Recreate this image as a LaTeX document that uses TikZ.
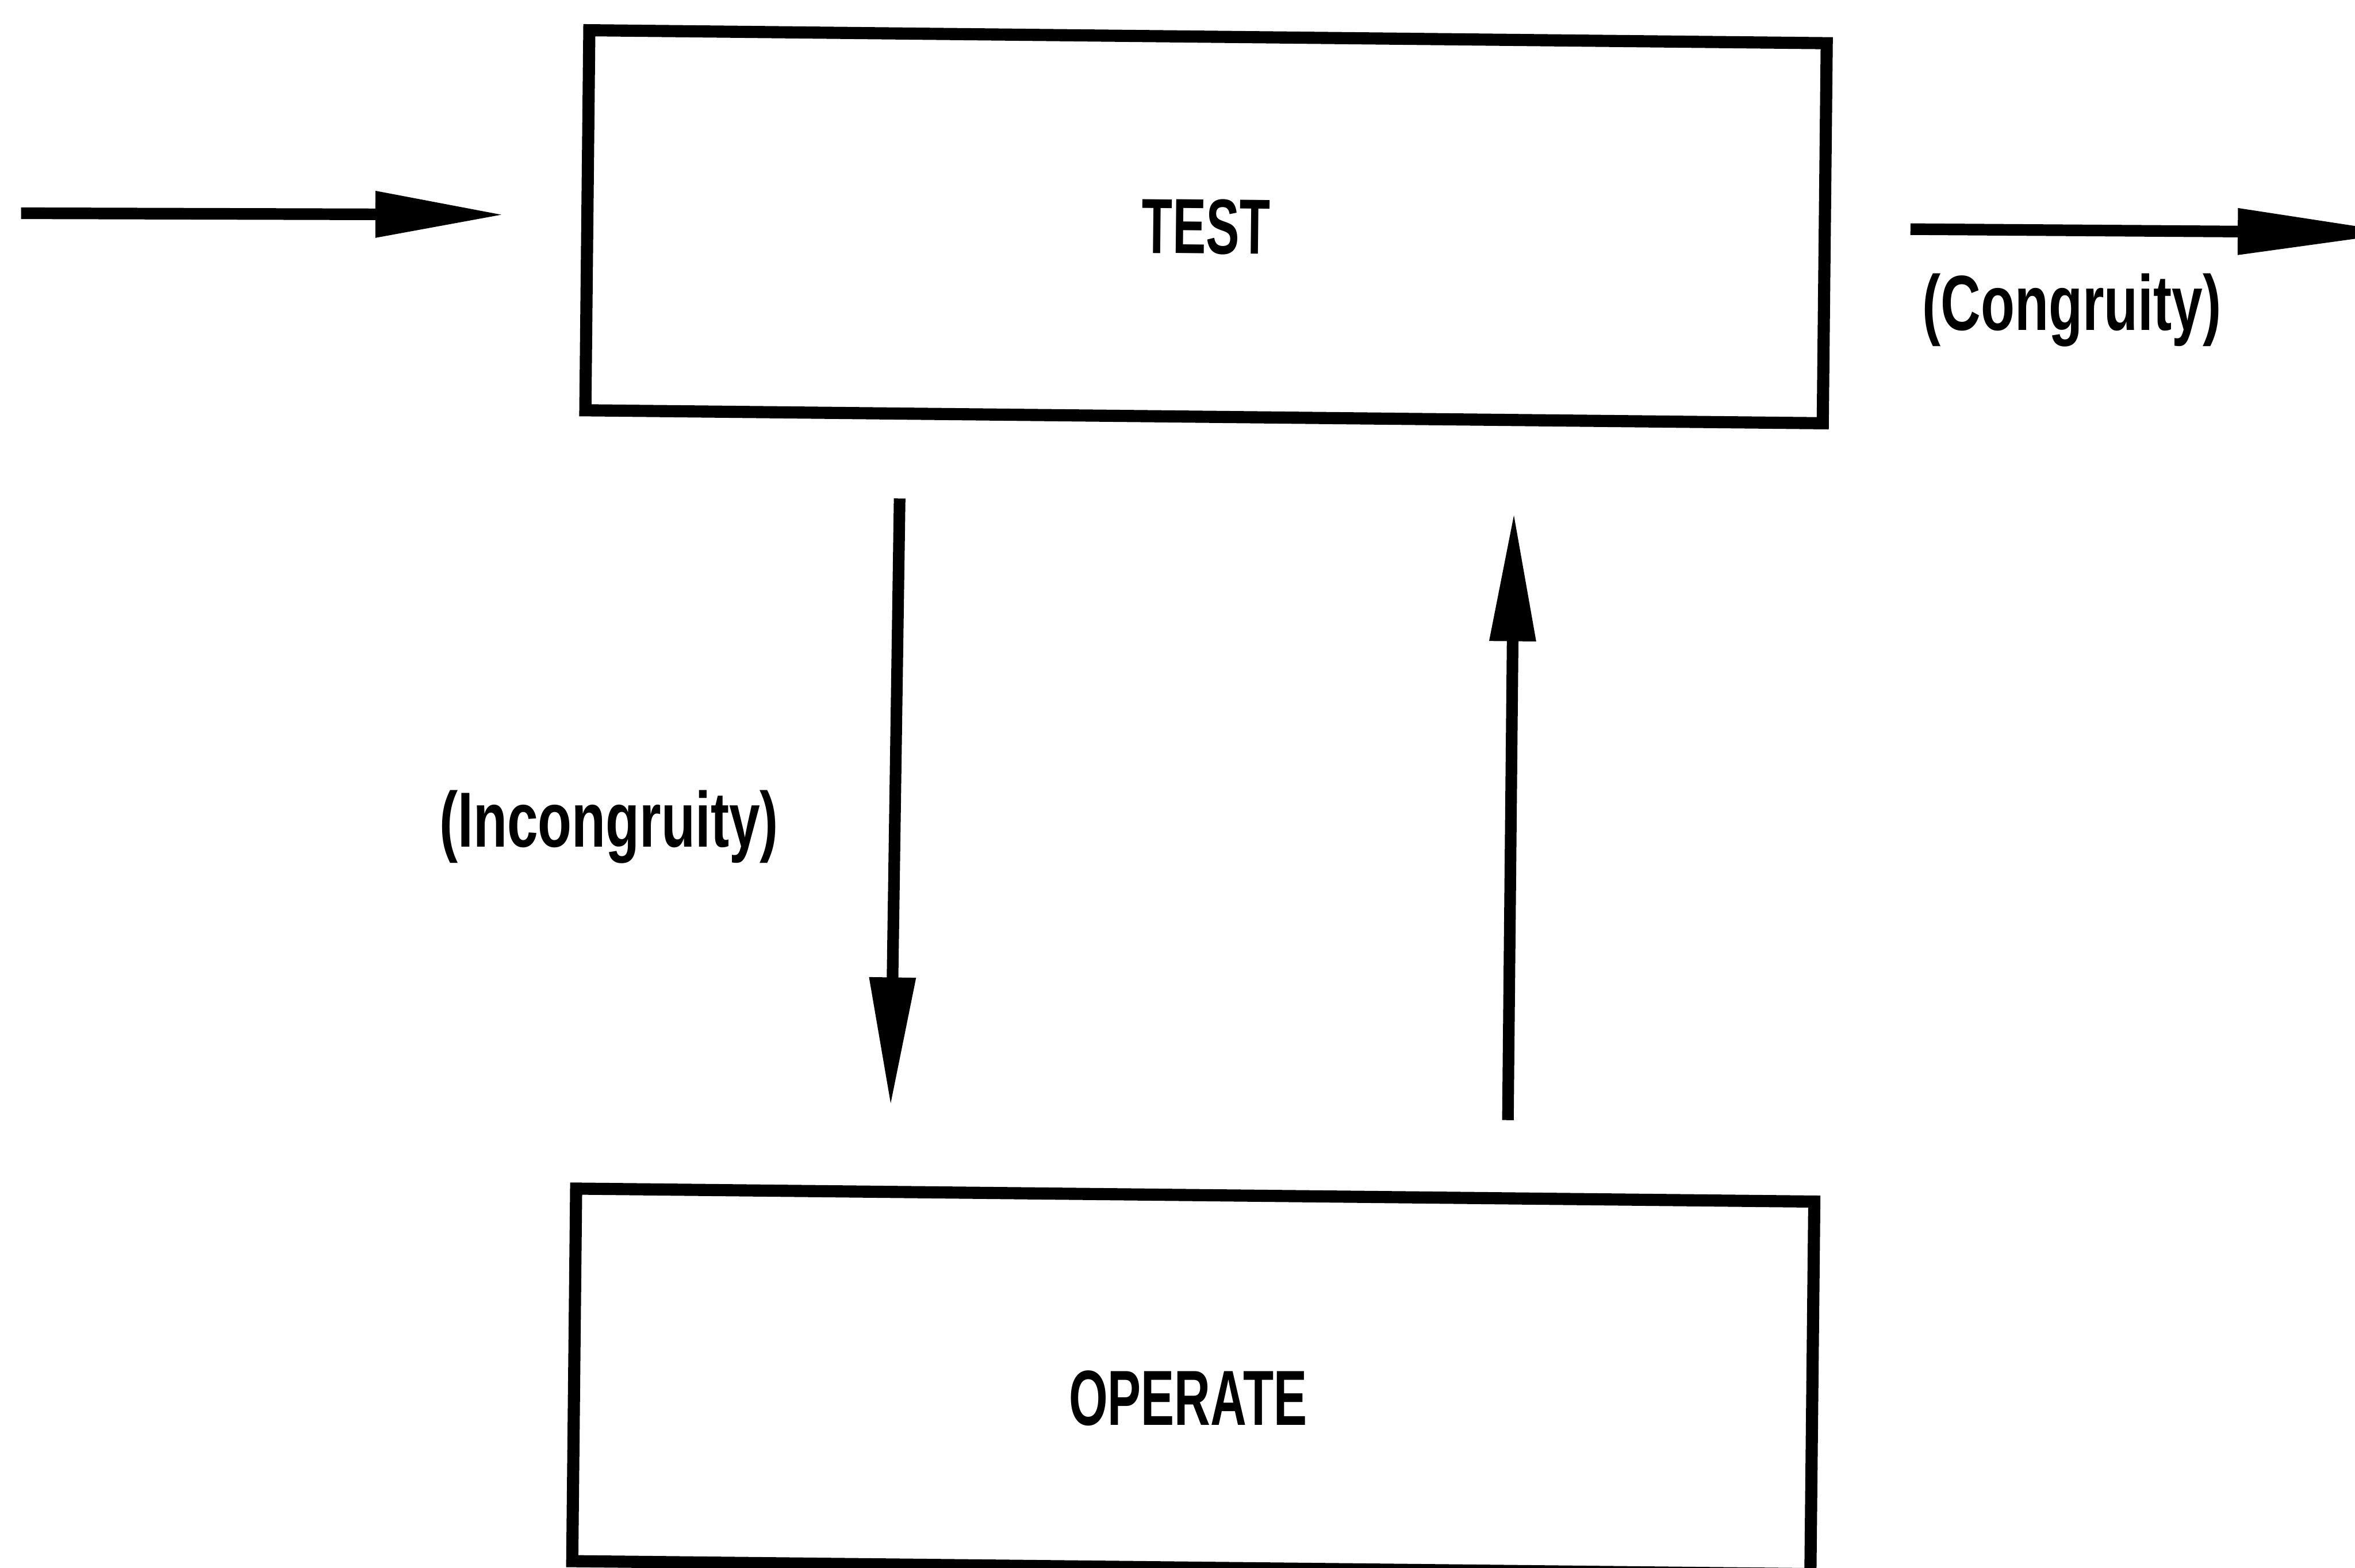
\documentclass[tikz,border=0pt]{standalone}
\usepackage{fontspec}
\setmainfont{Liberation Sans}
\newfontfamily\capfont[FakeStretch=0.64]{Liberation Sans Bold}
\newfontfamily\lcfont[FakeStretch=0.71]{Liberation Sans Bold}
\usetikzlibrary{arrows.meta}
\begin{document}
\begin{tikzpicture}[x=0.01cm,y=-0.01cm,
  box/.style={draw, line width=2.3pt, rectangle, inner sep=0pt, rotate=-0.6},
  conn/.style={line width=2.2pt, -{Triangle[length=0.86cm,width=0.29cm]}},
  longconn/.style={line width=2.2pt, -{Triangle[length=1.1cm,width=0.29cm]}},
  capslabel/.style={font=\capfont\fontsize{14.8}{17}\selectfont, inner sep=0pt},
  lclabel/.style={font=\lcfont\fontsize{14.8}{17}\selectfont, inner sep=0pt, anchor=base}]
\fill[white] (0,0) rectangle (1568,1044);
\useasboundingbox (0,0) rectangle (1568,1044);

% boxes
\node[box, capslabel, minimum width=8.235cm, minimum height=2.53cm] (test) at (803,151) {TEST};
\node[box, minimum width=8.24cm, minimum height=2.48cm] (operate) at (794.5,920) {};
\node[capslabel, anchor=base] (operatetxt) at (791,949) {OPERATE};

% connector end points
\coordinate (inL) at (14,142);
\coordinate (inR) at (336,143);
\coordinate (outL) at (1272,152.6);
\coordinate (outR) at (1600,155);
\coordinate (downA) at (599,332);
\coordinate (downB) at (593,737);
\coordinate (upA) at (1004,746);
\coordinate (upB) at (1008,341);

\draw[conn] (inL) -- (inR);
\draw[longconn] (outL) -- (outR);
\draw[conn] (downA) -- (downB);
\draw[conn] (upA) -- (upB);

% labels
\node[lclabel] (congruity) at (1379.5,220) {(Congruity)};
\node[lclabel] (incongruity) at (405.4,564) {(Incongruity)};
\end{tikzpicture}
\end{document}
